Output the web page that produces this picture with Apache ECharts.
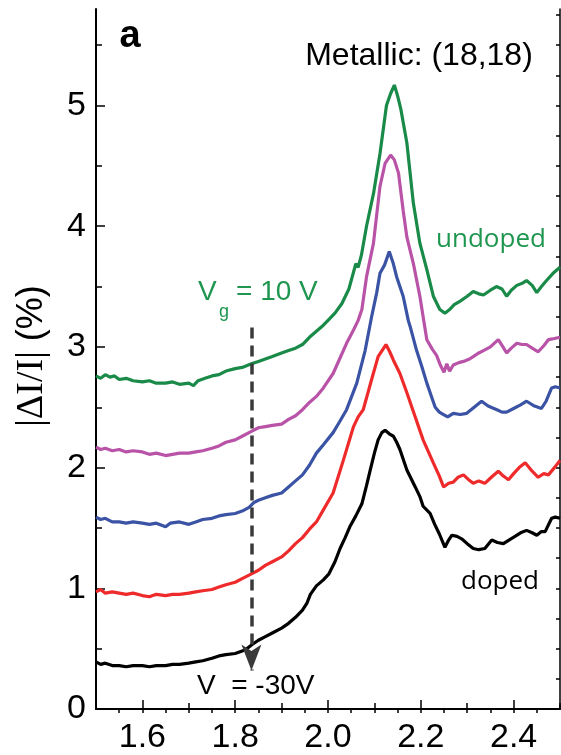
<!DOCTYPE html>
<html>
<head>
<meta charset="utf-8">
<script src="https://cdn.jsdelivr.net/npm/echarts@6/dist/echarts.min.js"></script>
<style>
  html, body { margin: 0; padding: 0; background: #fff; }
  #chart { width: 561px; height: 755px; }
</style>
</head>
<body>
<div id="chart"></div>
<script>
// tick values
var xLabels = [1.6, 1.8, 2.0, 2.2, 2.4];
var xMinor = [1.5, 1.7, 1.9, 2.1, 2.3, 2.5];
var xTop = [1.55, 1.6, 1.65, 1.7, 1.75, 1.8, 1.85, 1.9, 1.95, 2.0, 2.05, 2.1, 2.15, 2.2, 2.25, 2.3, 2.35, 2.4, 2.45];
var yLabels = [0, 1, 2, 3, 4, 5];
var yMinor = [0.5, 1.5, 2.5, 3.5, 4.5, 5.5];
var yRight = [0.25, 0.5, 0.75, 1, 1.25, 1.5, 1.75, 2, 2.25, 2.5, 2.75, 3, 3.25, 3.5, 3.75, 4, 4.25, 4.5, 4.75, 5, 5.25, 5.5, 5.75];

// dashed gate arrow (x, top, tip)
var dashX = 1.835;
var dashTop = 3.16;
var dashTip = 0.32;

// curves [photon energy, |dI/I|]
var undoped = [
  [1.500,2.76],[1.510,2.74],[1.520,2.77],[1.530,2.75],[1.540,2.76],[1.550,2.73],[1.565,2.74],[1.580,2.72],
  [1.600,2.71],[1.615,2.72],[1.630,2.70],[1.650,2.70],[1.665,2.71],[1.680,2.69],[1.700,2.70],[1.710,2.68],
  [1.720,2.72],[1.735,2.74],[1.750,2.76],[1.765,2.77],[1.780,2.80],[1.800,2.82],[1.815,2.83],[1.835,2.86],
  [1.850,2.88],[1.865,2.90],[1.880,2.92],[1.900,2.95],[1.915,2.97],[1.930,2.99],[1.945,3.02],[1.960,3.08],
  [1.975,3.13],[1.990,3.18],[2.000,3.22],[2.015,3.28],[2.030,3.36],[2.045,3.48],[2.055,3.62],[2.060,3.69],
  [2.065,3.66],[2.072,3.76],[2.083,4.00],[2.098,4.27],[2.112,4.60],[2.126,5.00],[2.135,5.10],[2.143,5.17],
  [2.150,5.08],[2.157,4.97],[2.170,4.69],[2.184,4.19],[2.198,3.86],[2.213,3.64],[2.227,3.42],[2.241,3.31],
  [2.252,3.28],[2.262,3.31],[2.272,3.35],[2.285,3.38],[2.300,3.42],[2.313,3.46],[2.325,3.44],[2.335,3.43],
  [2.350,3.47],[2.363,3.50],[2.375,3.48],[2.385,3.42],[2.395,3.47],[2.407,3.51],[2.420,3.53],[2.428,3.55],
  [2.440,3.51],[2.450,3.45],[2.460,3.50],[2.471,3.55],[2.485,3.61],[2.500,3.66]
];
var gate2 = [
  [1.500,2.17],[1.510,2.15],[1.520,2.16],[1.535,2.14],[1.550,2.15],[1.565,2.13],[1.580,2.14],[1.600,2.13],
  [1.615,2.11],[1.630,2.12],[1.650,2.10],[1.665,2.11],[1.680,2.12],[1.700,2.12],[1.715,2.13],[1.730,2.14],
  [1.750,2.16],[1.765,2.18],[1.780,2.21],[1.800,2.23],[1.815,2.26],[1.835,2.30],[1.850,2.33],[1.865,2.34],
  [1.880,2.35],[1.900,2.36],[1.915,2.40],[1.930,2.43],[1.945,2.48],[1.960,2.54],[1.975,2.59],[1.990,2.66],
  [2.011,2.78],[2.025,2.90],[2.040,3.03],[2.055,3.14],[2.065,3.22],[2.073,3.31],[2.083,3.58],[2.098,3.86],
  [2.112,4.33],[2.123,4.52],[2.135,4.59],[2.143,4.55],[2.152,4.44],[2.162,4.13],[2.170,3.91],[2.184,3.69],
  [2.198,3.42],[2.205,3.25],[2.213,3.06],[2.225,2.98],[2.234,2.93],[2.242,2.85],[2.250,2.79],[2.256,2.86],
  [2.262,2.80],[2.270,2.85],[2.282,2.87],[2.292,2.88],[2.305,2.90],[2.313,2.92],[2.325,2.95],[2.335,2.97],
  [2.350,3.00],[2.367,3.06],[2.377,3.00],[2.385,2.95],[2.395,2.99],[2.407,3.03],[2.418,3.02],[2.428,3.02],
  [2.440,2.99],[2.453,2.96],[2.465,3.01],[2.475,3.06],[2.488,3.07],[2.500,3.08]
];
var gate3 = [
  [1.500,1.59],[1.510,1.57],[1.520,1.58],[1.535,1.55],[1.550,1.55],[1.565,1.54],[1.580,1.55],[1.600,1.54],
  [1.615,1.53],[1.630,1.54],[1.650,1.51],[1.660,1.54],[1.680,1.55],[1.700,1.53],[1.715,1.55],[1.730,1.57],
  [1.750,1.58],[1.765,1.60],[1.780,1.61],[1.800,1.62],[1.815,1.64],[1.830,1.67],[1.840,1.71],[1.850,1.73],
  [1.865,1.75],[1.880,1.77],[1.900,1.79],[1.915,1.84],[1.930,1.89],[1.945,1.94],[1.960,2.02],[1.975,2.12],
  [1.990,2.19],[2.011,2.29],[2.025,2.38],[2.040,2.48],[2.050,2.58],[2.062,2.70],[2.080,2.97],[2.094,3.25],
  [2.105,3.45],[2.112,3.61],[2.122,3.68],[2.132,3.79],[2.140,3.70],[2.148,3.58],[2.162,3.42],[2.173,3.22],
  [2.177,3.17],[2.191,2.97],[2.202,2.84],[2.213,2.70],[2.222,2.60],[2.231,2.50],[2.240,2.46],[2.249,2.44],
  [2.258,2.42],[2.270,2.45],[2.285,2.44],[2.299,2.45],[2.315,2.50],[2.331,2.55],[2.345,2.51],[2.364,2.48],
  [2.375,2.46],[2.385,2.46],[2.400,2.49],[2.415,2.52],[2.428,2.55],[2.445,2.51],[2.460,2.49],[2.470,2.55],
  [2.482,2.66],[2.490,2.67],[2.500,2.66]
];
var gate4 = [
  [1.500,0.97],[1.510,0.99],[1.520,0.96],[1.535,0.97],[1.550,0.96],[1.565,0.95],[1.580,0.96],[1.600,0.94],
  [1.615,0.93],[1.630,0.95],[1.650,0.94],[1.665,0.95],[1.680,0.95],[1.700,0.96],[1.715,0.97],[1.730,0.98],
  [1.750,0.99],[1.765,1.01],[1.780,1.03],[1.800,1.05],[1.815,1.08],[1.835,1.12],[1.850,1.15],[1.865,1.19],
  [1.880,1.22],[1.900,1.26],[1.915,1.31],[1.930,1.37],[1.945,1.42],[1.960,1.49],[1.975,1.55],[1.990,1.65],
  [2.011,1.79],[2.033,2.06],[2.055,2.34],[2.065,2.42],[2.076,2.48],[2.094,2.73],[2.108,2.92],[2.125,3.02],
  [2.133,2.96],[2.141,2.89],[2.155,2.78],[2.170,2.62],[2.188,2.42],[2.205,2.23],[2.227,2.04],[2.240,1.93],
  [2.249,1.84],[2.260,1.87],[2.270,1.88],[2.280,1.92],[2.292,1.94],[2.303,1.90],[2.313,1.87],[2.325,1.89],
  [2.338,1.87],[2.352,1.92],[2.367,1.97],[2.378,1.93],[2.389,1.90],[2.400,1.95],[2.412,2.00],[2.425,2.04],
  [2.440,1.97],[2.453,1.92],[2.465,1.95],[2.475,1.94],[2.488,2.00],[2.500,2.06]
];
var doped = [
  [1.500,0.39],[1.510,0.37],[1.520,0.38],[1.535,0.36],[1.550,0.36],[1.565,0.35],[1.580,0.36],[1.600,0.36],
  [1.615,0.35],[1.630,0.36],[1.650,0.36],[1.665,0.37],[1.680,0.37],[1.700,0.38],[1.715,0.39],[1.730,0.40],
  [1.750,0.42],[1.765,0.44],[1.780,0.45],[1.800,0.46],[1.815,0.48],[1.825,0.50],[1.835,0.53],[1.850,0.57],
  [1.865,0.60],[1.880,0.63],[1.900,0.67],[1.915,0.71],[1.930,0.76],[1.945,0.82],[1.955,0.88],[1.962,0.95],
  [1.975,1.02],[1.990,1.07],[2.002,1.12],[2.015,1.22],[2.026,1.33],[2.037,1.42],[2.047,1.51],[2.060,1.60],
  [2.073,1.70],[2.083,1.85],[2.091,1.98],[2.100,2.12],[2.108,2.23],[2.116,2.29],[2.123,2.31],[2.132,2.28],
  [2.141,2.26],[2.148,2.21],[2.155,2.15],[2.170,1.98],[2.188,1.84],[2.198,1.76],[2.205,1.68],[2.220,1.62],
  [2.230,1.53],[2.240,1.45],[2.252,1.34],[2.260,1.40],[2.267,1.44],[2.278,1.43],[2.288,1.41],[2.300,1.37],
  [2.313,1.33],[2.325,1.32],[2.338,1.33],[2.353,1.40],[2.365,1.38],[2.378,1.37],[2.390,1.40],[2.403,1.43],
  [2.415,1.46],[2.428,1.48],[2.440,1.46],[2.450,1.44],[2.460,1.47],[2.468,1.47],[2.482,1.58],[2.490,1.59],
  [2.500,1.58]
];

var sans = '"Liberation Sans", Arial, sans-serif';

function tickAxis(pos, vals, len, extra) {
  var vert = pos == 'left' || pos == 'right';
  var ax = {
    type: 'value', position: pos, min: vert ? 0 : 1.5, max: vert ? 5.8 : 2.5,
    axisLine: { show: false },
    axisTick: { show: true, inside: true, length: len, customValues: vals, lineStyle: { color: '#000', width: 1.5 } },
    axisLabel: { show: false },
    splitLine: { show: false }
  };
  return Object.assign(ax, extra || {});
}

function line(name, pts, color) {
  return {
    name: name, type: 'line', data: pts, showSymbol: false, symbol: 'none',
    lineStyle: { color: color, width: 3.2 }, animation: false, silent: true
  };
}

var option = {
  backgroundColor: '#fff',
  animation: false,
  grid: { left: 96, right: 1, top: 9, bottom: 46 },
  xAxis: [
    tickAxis('bottom', xLabels, 9, {
      axisLine: { show: true, lineStyle: { color: '#000', width: 2 } },
      axisLabel: { show: true, customValues: xLabels, margin: 12, color: '#000', fontSize: 34, fontFamily: sans,
        formatter: function (v) { return v.toFixed(1); } }
    }),
    tickAxis('bottom', xMinor, 6),
    tickAxis('top', xTop, 4, { axisLine: { show: true, lineStyle: { color: '#000', width: 1.5 } } })
  ],
  yAxis: [
    tickAxis('left', yLabels, 9, {
      axisLine: { show: true, lineStyle: { color: '#000', width: 2 } },
      axisLabel: { show: true, customValues: yLabels, margin: 10, color: '#000', fontSize: 34, fontFamily: sans }
    }),
    tickAxis('left', yMinor, 6),
    tickAxis('right', yRight, 4, { axisLine: { show: true, lineStyle: { color: '#000', width: 1.5 } } })
  ],
  series: [
    line('undoped', undoped, '#198a48'),
    line('g2', gate2, '#b853a8'),
    line('g3', gate3, '#3a53a4'),
    line('g4', gate4, '#ee2a2a'),
    Object.assign(line('doped', doped, '#000'), {
      markLine: {
        silent: true, animation: false,
        symbol: ['none', 'arrow'], symbolSize: [15, 26],
        label: { show: false },
        lineStyle: { color: '#3a3a3a', width: 3.5, type: [11, 7] },
        data: [[{ coord: [dashX, dashTop] }, { coord: [dashX, dashTip] }]]
      }
    })
  ],
  graphic: [
    { type: 'text', x: 130, y: 37, style: { text: 'a', font: 'bold 38px ' + sans, fill: '#000', align: 'center', verticalAlign: 'middle' } },
    { type: 'text', x: 419, y: 56, style: { text: 'Metallic: (18,18)', font: '32px ' + sans, fill: '#000', align: 'center', verticalAlign: 'middle' } },
    { type: 'text', x: 491, y: 240, style: { text: 'undoped', font: '26px "Open Sans"', fill: '#1e9650', align: 'center', verticalAlign: 'middle' } },
    { type: 'text', x: 500, y: 582, style: { text: 'doped', font: '26px "Open Sans"', fill: '#000', align: 'center', verticalAlign: 'middle' } },
    { type: 'text', x: 198, y: 292, style: { text: 'V', font: '28px ' + sans, fill: '#1e9650', align: 'left', verticalAlign: 'middle' } },
    { type: 'text', x: 219, y: 312, style: { text: 'g', font: '18px ' + sans, fill: '#1e9650', align: 'left', verticalAlign: 'middle' } },
    { type: 'text', x: 236, y: 292, style: { text: '= 10 V', font: '28px ' + sans, fill: '#1e9650', align: 'left', verticalAlign: 'middle' } },
    { type: 'text', x: 197, y: 686, style: { text: 'V  = -30V', font: '28px ' + sans, fill: '#000', align: 'left', verticalAlign: 'middle' } },
    { type: 'text', x: 32, y: 356, rotation: Math.PI / 2,
      style: { text: '{s||\u0394I/I|}{p| (%)}', align: 'center', verticalAlign: 'middle', fill: '#000',
        rich: { s: { fontFamily: 'Liberation Serif', fontSize: 38 }, p: { fontFamily: sans, fontSize: 36 } } } }
  ]
};

var chart = echarts.init(document.getElementById('chart'));
chart.setOption(option);
window.addEventListener('resize', function () {
  chart.resize();
});
</script>
</body>
</html>
